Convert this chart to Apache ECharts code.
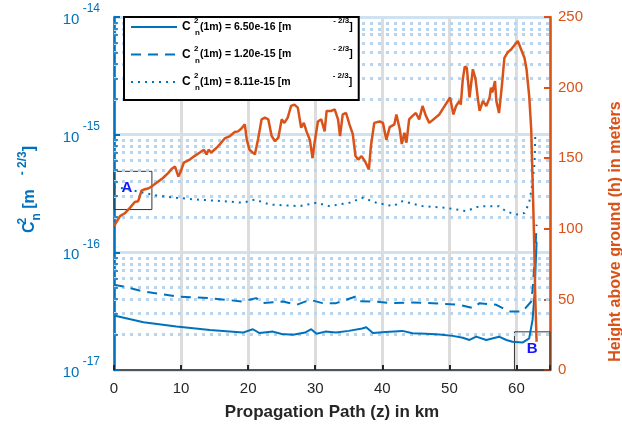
<!DOCTYPE html>
<html>
<head>
<meta charset="utf-8">
<script src="https://cdn.jsdelivr.net/npm/echarts@6/dist/echarts.min.js"></script>
<style>
html, body { margin: 0; padding: 0; background: #fff; }
#chart { width: 622px; height: 432px; }
</style>
</head>
<body>
<div id="chart"></div>
<script>
// height above ground along the path (right axis)
const heightKm = [0, 0.9, 1.6, 2.4, 3.1, 3.6, 4.1, 4.6, 5.1, 5.6, 6.35, 7.3, 8.1, 8.6, 9.1, 9.6, 9.9, 10.4, 11.3, 12.0,
  12.8, 13.4, 13.8, 14.1, 14.5, 15.3, 15.8, 16.5, 17.3, 18.0, 18.5, 19.0, 19.5, 19.8, 20.2, 21.0, 21.5, 22.0, 22.5, 23.0,
  23.5, 24.0, 24.5, 25.0, 25.4, 25.9, 26.4, 26.9, 27.4, 27.9, 28.3, 28.7, 29.2, 29.6, 29.9, 30.4, 30.9, 31.4, 31.7, 32.4,
  32.9, 33.4, 33.7, 34.1, 34.6, 35.1, 35.6, 36.0, 36.4, 36.9, 37.4, 38.0, 38.3, 38.8, 39.6, 40.1, 40.6, 41.1, 41.8, 42.1,
  42.6, 42.9, 43.3, 43.6, 44.0, 44.5, 45.0, 45.5, 46.0, 46.5, 47.0, 48.5, 50.1, 50.6, 51.0, 51.5, 51.7, 52.0, 52.3, 52.6,
  53.0, 53.5, 53.9, 54.2, 54.5, 55.0, 55.5, 56.0, 56.2, 56.4, 56.8, 57.0, 57.4, 57.8, 58.2, 58.7, 59.2, 60.2, 60.7, 61.2,
  61.5, 61.9, 62.2, 62.4, 62.6, 62.8, 63.0]
const heightM = [102, 109, 111, 115, 119, 119.5, 127, 128, 128.5, 130, 132.6, 136, 139.6, 142.5, 144, 137, 140, 146.8, 149, 151.5,
  154, 156, 152.7, 156, 154, 157.4, 160, 164, 165.7, 168.5, 169, 171, 174, 163, 156, 152.7, 164, 177.5, 178.7, 177.5,
  165.7, 162, 164.5, 177.5, 175, 178.7, 187, 188, 185.8, 171.6, 175, 169, 163, 150, 161, 176, 177.5, 169, 183.5, 183.5,
  184.6, 177.5, 165.7, 181, 182, 174, 167, 151.5, 149, 151.5, 148, 142, 158.6, 175, 176, 175, 163, 172, 174, 181,
  170.5, 160, 168, 161, 177.5, 180, 182, 177.5, 187, 180, 175, 181, 193, 181, 187, 190.6, 188, 206, 215, 214,
  193, 213, 206, 194, 183.5, 190.6, 187, 193, 200, 196.5, 204.7, 190.6, 182, 200, 221, 225, 227, 233, 227, 221,
  213, 194, 170.5, 135, 99, 52, 20]

// Cn2 profiles (left axis)
const solidKm = [0, 4.4, 9.3, 14.3, 19.2, 20.7, 21.7, 23.7, 25.0, 26.7, 28.5, 29.4, 30.2, 31.5, 33.1, 35.0, 37.0, 37.6, 38.6, 40.5,
  43.0, 44.5, 46.5, 48.5, 50.5, 52.0, 53.0, 54.0, 55.5, 57.4, 58.5, 59.4, 60.9, 61.9, 62.4, 62.7, 63.0]
const solidCn2 = [2.9e-17, 2.55e-17, 2.34e-17, 2.19e-17, 2.08e-17, 2.22e-17, 2.06e-17, 2.12e-17, 2.02e-17, 1.99e-17, 2.08e-17, 2.22e-17,
  2.03e-17, 2.12e-17, 2.08e-17, 2.15e-17, 2.25e-17, 2.31e-17, 2.06e-17, 2.1e-17, 2.15e-17, 2.05e-17, 2.03e-17, 2.0e-17, 1.95e-17,
  1.88e-17, 1.80e-17, 1.92e-17, 1.80e-17, 1.92e-17, 1.80e-17, 1.74e-17, 1.71e-17, 1.86e-17, 2.67e-17, 4.5e-17, 1.23e-16]

const dashedKm = [0, 1.4, 4.4, 9.3, 14.3, 19.2, 21.2, 22.2, 25.2, 27.2, 29.2, 31.1, 33.1, 36.1, 36.6, 38.6, 41.6, 44.0, 47.5, 51.5,
  53.5, 54.5, 57.0, 58.9, 60.9, 62.2, 62.4, 62.8, 63.0]
const dashedCn2 = [5.3e-17, 5.13e-17, 4.65e-17, 4.22e-17, 4.08e-17, 3.82e-17, 4.08e-17, 3.7e-17, 3.82e-17, 3.58e-17, 3.95e-17, 3.7e-17,
  3.7e-17, 4.22e-17, 3.85e-17, 3.82e-17, 3.7e-17, 3.75e-17, 3.7e-17, 3.58e-17, 3.36e-17, 3.7e-17, 3.58e-17, 3.14e-17, 3.14e-17,
  3.82e-17, 4.8e-17, 1.0e-16, 1.72e-16]

const dottedKm = [0, 0.9, 4.4, 6.35, 9.3, 12.3, 16.3, 19.2, 21.0, 23.2, 27.7, 30.2, 32.1, 35.1, 37.1, 39.1, 41.6, 43.0, 46.0, 49.5,
  52.5, 54.5, 57.4, 58.4, 59.9, 61.2, 61.9, 62.4, 62.7, 62.8, 62.9]
const dottedCn2 = [3.6e-16, 3.54e-16, 3.21e-16, 3.04e-16, 2.91e-16, 2.81e-16, 2.72e-16, 2.64e-16, 2.81e-16, 2.55e-16, 2.47e-16, 2.64e-16,
  2.47e-16, 2.64e-16, 2.91e-16, 2.64e-16, 2.47e-16, 2.72e-16, 2.47e-16, 2.39e-16, 2.24e-16, 2.47e-16, 2.47e-16, 2.24e-16, 2.09e-16,
  2.16e-16, 2.64e-16, 3.91e-16, 5.78e-16, 9.75e-16, 1.04e-15]

const legendNames = ['6.50e-16', '1.20e-15', '8.11e-15']
const xTicks = [0, 10, 20, 30, 40, 50, 60]
const minorSteps = [2, 3, 4, 5, 6, 7, 8, 9]
const decades = [-17, -16, -15]

const BLUE = '#0072BD', ORANGE = '#D95319', TXT = '#262626'
const zip = (a, b) => a.map((v, i) => [v, b[i]])

// minor grid positions (in log10 units, drawn on a hidden linear twin of the log axis)
const minorExp = []
decades.forEach(d => minorSteps.forEach(k => minorExp.push(d + Math.log10(k))))

const chart = echarts.init(document.getElementById('chart'))

const legRich = {
  c: { fontSize: 12, fontWeight: 'bold', color: '#000', lineHeight: 20 },
  p: { fontSize: 8, fontWeight: 'bold', color: '#000', verticalAlign: 'top', width: 1 },
  q: { fontSize: 8, fontWeight: 'bold', color: '#000', verticalAlign: 'bottom' },
  t: { fontSize: 10.5, fontWeight: 'bold', color: '#000', lineHeight: 20 },
  g: { width: 42 },
  s: { fontSize: 8, fontWeight: 'bold', color: '#000', verticalAlign: 'top' }
}

chart.setOption({
  animation: false,
  textStyle: { fontFamily: 'Liberation Sans, Arial, sans-serif' },
  grid: { left: 114, right: 72, top: 17, bottom: 62, outerBoundsMode: 'none', containLabel: false,
    show: true, borderColor: TXT, borderWidth: 1 },
  legend: {
    orient: 'vertical', left: 124, top: 17, data: legendNames,
    itemWidth: 46, itemHeight: 14, itemGap: 7.5,
    padding: [0, 6, 8, 6],
    borderColor: '#000', borderWidth: 2, backgroundColor: '#fff',
    itemStyle: { color: 'rgba(0,0,0,0)', borderWidth: 0 },
    textStyle: { rich: legRich },
    formatter: n => '{c|C }{p|2}{q|n}{t|(1m) = ' + n + ' [m}{g|}{s|- 2/3}{t|]}'
  },
  xAxis: {
    type: 'value', min: 0, max: 65, interval: 10,
    name: 'Propagation Path (z) in km', nameLocation: 'middle', nameGap: 34,
    nameTextStyle: { fontSize: 17, fontWeight: 'bold', color: TXT },
    axisLine: { lineStyle: { color: TXT, width: 1.5 } },
    axisTick: { inside: true, length: 5, lineStyle: { color: TXT, width: 2 } },
    axisLabel: { fontSize: 15, color: TXT, margin: 11, formatter: v => xTicks.includes(v) ? String(v) : '' },
    splitLine: { show: true, lineStyle: { color: '#dcdcdc', width: 3 } }
  },
  yAxis: [
    {
      type: 'log', logBase: 10, min: 1e-17, max: 1e-14, splitNumber: 3,
      name: '{c|C}{p|2}{q|n}{t| [m}{g|}{s|- 2/3}{t|]}', nameLocation: 'middle', nameGap: 71, nameRotate: 90,
      nameTextStyle: {
        color: BLUE, padding: [0, 0, 0, 8],
        rich: {
          c: { fontSize: 16, fontWeight: 'bold', color: BLUE, lineHeight: 26 },
          p: { fontSize: 12, fontWeight: 'bold', color: BLUE, verticalAlign: 'top', width: 1 },
          q: { fontSize: 12, fontWeight: 'bold', color: BLUE, verticalAlign: 'bottom' },
          t: { fontSize: 16, fontWeight: 'bold', color: BLUE, lineHeight: 26 },
          g: { width: 14 },
          s: { fontSize: 12, fontWeight: 'bold', color: BLUE, verticalAlign: 'top' }
        }
      },
      axisLine: { show: true, lineStyle: { color: BLUE, width: 2.5 } },
      axisTick: { inside: true, length: 6, lineStyle: { color: BLUE, width: 2 } },
      axisLabel: {
        margin: 14, color: BLUE,
        formatter: v => '{b|10}{s| ' + Math.round(Math.log10(v)) + '}',
        rich: {
          b: { fontSize: 15, color: BLUE, lineHeight: 28, padding: [6, 0, 0, 0] },
          s: { fontSize: 12, color: BLUE, verticalAlign: 'top' }
        }
      },
      splitLine: { show: true, lineStyle: { color: '#cfe2f1', width: 3 } }
    },
    {
      type: 'value', min: 0, max: 250, interval: 50, position: 'right',
      name: 'Height above ground (h) in meters', nameLocation: 'middle', nameGap: 58, nameRotate: 90,
      nameTextStyle: { fontSize: 16, fontWeight: 'bold', color: ORANGE, padding: [0, 76, 0, 0] },
      axisLine: { show: true, lineStyle: { color: ORANGE, width: 2.5 } },
      axisTick: { inside: true, length: 6, lineStyle: { color: ORANGE, width: 2 } },
      axisLabel: { fontSize: 15, color: ORANGE, margin: 8 },
      splitLine: { show: false }
    },
    {
      // linear twin of the log axis, only carries the minor grid
      type: 'value', min: -17, max: -14, show: false, position: 'left',
      splitLine: { show: false }
    }
  ],
  series: [
    {
      name: 'minor', type: 'line', yAxisIndex: 2, data: [[0, -17]], symbol: 'none',
      lineStyle: { opacity: 0 }, z: 1, silent: true,
      markLine: {
        silent: true, symbol: 'none', label: { show: false }, z: 1, animation: false,
        lineStyle: { color: '#b7d5ee', width: 3, type: [3, 5] },
        data: minorExp.map(v => ({ yAxis: v }))
          .concat(minorExp.map(v => [
            { coord: [0, v], lineStyle: { color: BLUE, width: 1.5, type: 'solid' } },
            { coord: [0.6, v] }
          ]))
      }
    },
    {
      name: legendNames[0], type: 'line', yAxisIndex: 0, data: zip(solidKm, solidCn2),
      symbol: 'none', lineStyle: { color: BLUE, width: 2 }, itemStyle: { color: BLUE }, z: 3,
      markArea: {
        silent: true,
        itemStyle: { color: 'rgba(0,0,0,0)', borderColor: '#333', borderWidth: 1 },
        label: { show: true, position: 'inside', color: '#1414ff', fontSize: 15, fontWeight: 'bold', offset: [0, -2] },
        data: [[{ name: 'B', xAxis: 59.7, yAxis: 2.11e-17 }, { xAxis: 65, yAxis: 1e-17 }]]
      }
    },
    {
      name: legendNames[1], type: 'line', yAxisIndex: 0, data: zip(dashedKm, dashedCn2),
      symbol: 'none', lineStyle: { color: BLUE, width: 2, type: [10, 7] }, itemStyle: { color: BLUE }, z: 3
    },
    {
      name: legendNames[2], type: 'line', yAxisIndex: 0, data: zip(dottedKm, dottedCn2),
      symbol: 'none', lineStyle: { color: BLUE, width: 2, type: [2, 5] }, itemStyle: { color: BLUE }, z: 3,
      markArea: {
        silent: true,
        itemStyle: { color: 'rgba(0,0,0,0)', borderColor: '#333', borderWidth: 1 },
        label: { show: true, position: 'inside', color: '#1414ff', fontSize: 15, fontWeight: 'bold', offset: [-6, -3] },
        data: [[{ name: 'A', xAxis: 0, yAxis: 4.88e-16 }, { xAxis: 5.65, yAxis: 2.31e-16 }]]
      }
    },
    {
      name: 'height', type: 'line', yAxisIndex: 1, data: zip(heightKm, heightM),
      symbol: 'none', lineStyle: { color: ORANGE, width: 2.5 }, itemStyle: { color: ORANGE }, z: 4
    }
  ]
})
</script>
</body>
</html>
